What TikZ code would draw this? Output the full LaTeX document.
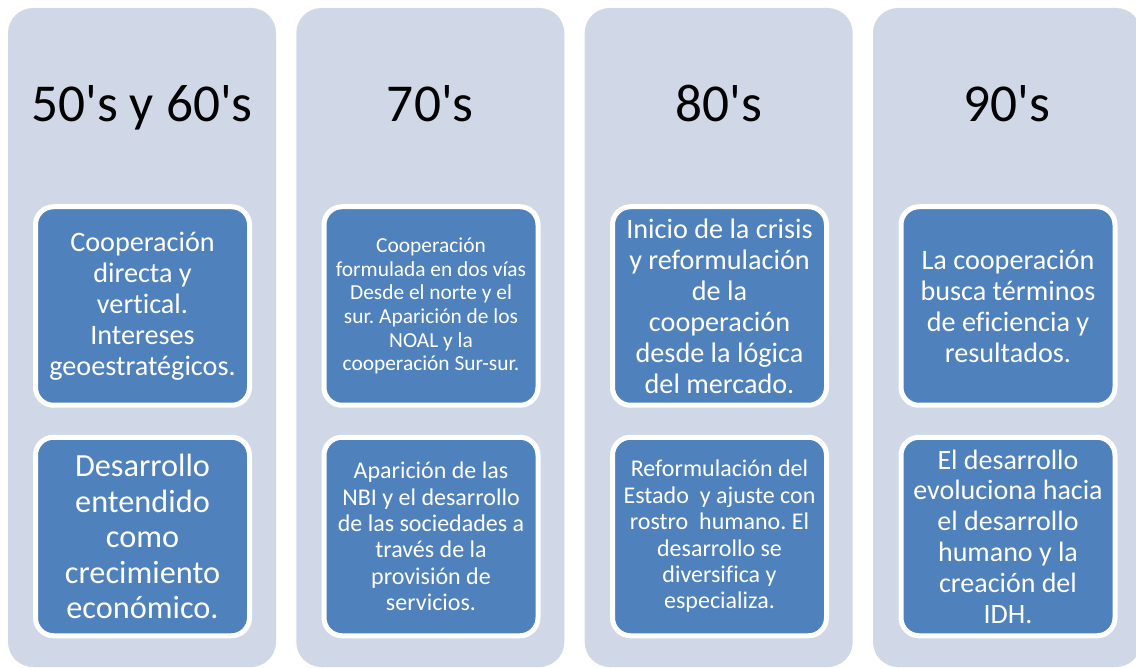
\documentclass[tikz,border=0pt]{standalone}
\usepackage{fontspec}
\setmainfont{Carlito}[Ligatures=NoCommon]
\definecolor{colbg}{HTML}{D0D8E8}
\definecolor{boxblue}{HTML}{4F81BD}
\newcommand{\apos}{\textquotesingle}
\begin{document}
\frenchspacing
\begin{tikzpicture}[x=1pt,y=-1pt,
  colstyle/.style={fill=colbg,draw=none,rounded corners=25pt},
  head/.style={anchor=base,text=black,font=\fontsize{53.3}{64}\selectfont,inner sep=0pt},
  bluebox/.style={draw=white,line width=5pt,fill=boxblue,rounded corners=18pt,
    minimum width=214pt,minimum height=198.5pt,inner sep=0pt,text=white,align=center}
]
\useasboundingbox (0,0) rectangle (1136,668);
\clip (0,0) rectangle (1136,668);
% columns
\foreach \cx in {8,296.3,584.7,873}{
  \fill[colstyle] (\cx,8) rectangle ++(268,659);
}
% headings
\node[head] (h1) at (142,122) {50\apos s y 60\apos s};
\node[head] (h2) at (430.3,122) {70\apos s};
\node[head] (h3) at (718.7,122) {80\apos s};
\node[head] (h4) at (1007,122) {90\apos s};
% top boxes
\node[bluebox,font=\fontsize{28.2}{31}\selectfont] (t1) at (142.5,306) {Cooperación\\directa y\\vertical.\\Intereses\\geoestratégicos.};
\node[bluebox,font=\fontsize{21.4}{23.6}\selectfont] (t2) at (431,306) {Cooperación\\formulada en dos vías\\Desde el norte y el\\sur. Aparición de los\\NOAL y la\\cooperación Sur-sur.};
\node[bluebox,font=\fontsize{28.2}{31}\selectfont] (t3) at (719.5,306) {Inicio de la crisis\\y reformulación\\de la\\cooperación\\desde la lógica\\del mercado.};
\node[bluebox,font=\fontsize{28.2}{31}\selectfont] (t4) at (1008,306) {La cooperación\\busca términos\\de eficiencia y\\resultados.};
% bottom boxes
\node[bluebox,font=\fontsize{32.3}{35.5}\selectfont] (b1) at (142.5,536.5) {Desarrollo\\entendido\\como\\crecimiento\\económico.};
\node[bluebox,font=\fontsize{24}{26.4}\selectfont] (b2) at (431,536.5) {Aparición de las\\NBI y el desarrollo\\de las sociedades a\\través de la\\provisión de\\servicios.};
\node[bluebox,font=\fontsize{24}{26.4}\selectfont] (b3) at (719.5,536.5) {Reformulación del\\Estado~ y ajuste con\\rostro~ humano. El\\desarrollo se\\diversifica y\\especializa.};
\node[bluebox,font=\fontsize{28}{30.8}\selectfont] (b4) at (1008,536.5) {El desarrollo\\evoluciona hacia\\el desarrollo\\humano y la\\creación del\\IDH.};
\end{tikzpicture}
\end{document}
